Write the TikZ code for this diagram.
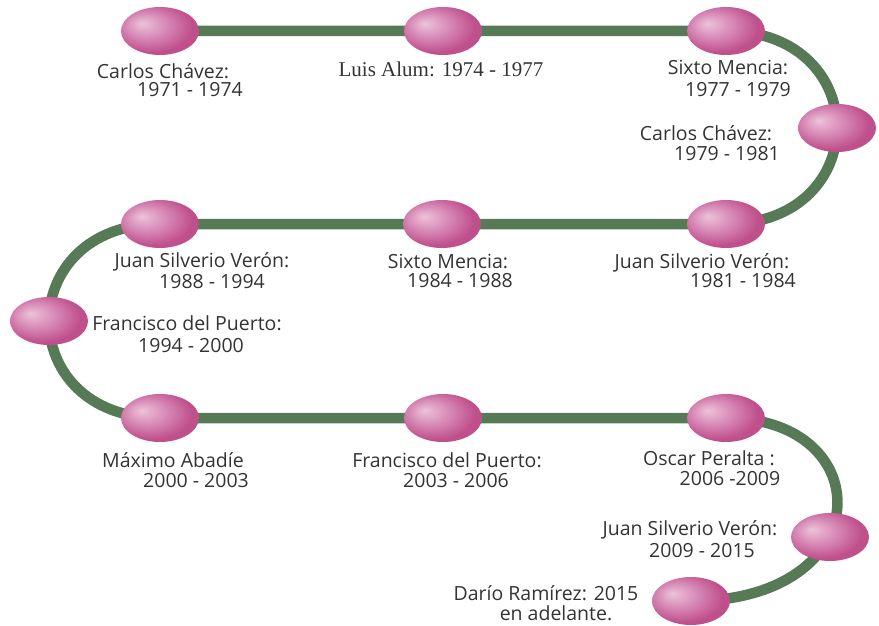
\documentclass[tikz,border=0pt]{standalone}
\usepackage{fontspec}
\setmainfont{Open Sans}
\newfontfamily\timesfont{Liberation Serif}
\usetikzlibrary{shapes.geometric,backgrounds}
\definecolor{trackgreen}{HTML}{557A55}
\definecolor{pinkhi}{HTML}{ECC3DA}
\definecolor{pinkmid}{HTML}{D585B3}
\definecolor{pinkdk}{HTML}{C0508C}
\definecolor{txt}{HTML}{333333}
\pgfdeclareradialshading{egg}{\pgfpoint{-12bp}{8bp}}{color(0bp)=(pinkhi); color(14bp)=(pinkmid); color(26bp)=(pinkdk); color(32bp)=(pinkdk); color(50bp)=(pinkdk)}
\tikzset{
  eggnode/.style={ellipse, shading=egg, draw=none, minimum width=78pt, minimum height=48pt, inner sep=0pt},
  track/.style={draw=trackgreen, line width=10.5pt},
  lbl/.style={anchor=base, inner sep=0pt, text=txt, font=\fontsize{19.5pt}{20pt}\selectfont},
  lblserif/.style={anchor=base, inner sep=0pt, text=txt, font=\timesfont\fontsize{21pt}{22pt}\selectfont}
}
\begin{document}
\begin{tikzpicture}[x=1pt,y=-1pt]
\useasboundingbox (0,0) rectangle (879,626);
% milestones
\node[eggnode] (e1) at (160,31) {};
\node[eggnode] (e2) at (443,31) {};
\node[eggnode] (e3) at (726,31) {};
\node[eggnode] (e4) at (837,128) {};
\node[eggnode] (e5) at (726,224) {};
\node[eggnode] (e6) at (442,224) {};
\node[eggnode] (e7) at (160,224) {};
\node[eggnode] (e8) at (49,321) {};
\node[eggnode] (e9) at (160,418) {};
\node[eggnode] (e10) at (443,418) {};
\node[eggnode] (e11) at (726,418) {};
\node[eggnode] (e12) at (830,537) {};
\node[eggnode] (e13) at (691,601) {};
% track
\begin{scope}[on background layer]
\draw[track] (e1.center) -- (e2.center) -- (e3.center)
  .. controls (874,31) and (874,224) .. (e5.center)
  -- (e6.center) -- (e7.center)
  .. controls (12,224) and (12,418) .. (e9.center)
  -- (e10.center) -- (e11.center)
  .. controls (880,418) and (880,601) .. (e13.center);
\end{scope}
% labels
\node[lbl] (l1a) at (163,78) {Carlos Chávez:};
\node[lbl] (l1b) at (190,97) {1971 - 1974};
\node[lblserif] (l2) at (441,77) {Luis Alum: 1974 - 1977};
\node[lbl] (l3a) at (728,75) {Sixto Mencia:};
\node[lbl] (l3b) at (738,97) {1977 - 1979};
\node[lbl] (l4a) at (706,140) {Carlos Chávez:};
\node[lbl] (l4b) at (727,160) {1979 - 1981};
\node[lbl] (l5a) at (702,268) {Juan Silverio Verón:};
\node[lbl] (l5b) at (743,287) {1981 - 1984};
\node[lbl] (l6a) at (448,268) {Sixto Mencia:};
\node[lbl] (l6b) at (460,287) {1984 - 1988};
\node[lbl] (l7a) at (202,267) {Juan Silverio Verón:};
\node[lbl] (l7b) at (212,288) {1988 - 1994};
\node[lbl] (l8a) at (187,330) {Francisco del Puerto:};
\node[lbl] (l8b) at (191,352) {1994 - 2000};
\node[lbl] (l9a) at (173,467) {Máximo Abadíe};
\node[lbl] (l9b) at (196,487) {2000 - 2003};
\node[lbl] (l10a) at (447,467) {Francisco del Puerto:};
\node[lbl] (l10b) at (456,487) {2003 - 2006};
\node[lbl] (l11a) at (709,465) {Oscar Peralta :};
\node[lbl] (l11b) at (730,485) {2006 -2009};
\node[lbl] (l12a) at (690,535) {Juan Silverio Verón:};
\node[lbl] (l12b) at (702,557) {2009 - 2015};
\node[lbl] (l13a) at (546,600) {Darío Ramírez: 2015};
\node[lbl] (l13b) at (556,620) {en adelante.};
\end{tikzpicture}
\end{document}
